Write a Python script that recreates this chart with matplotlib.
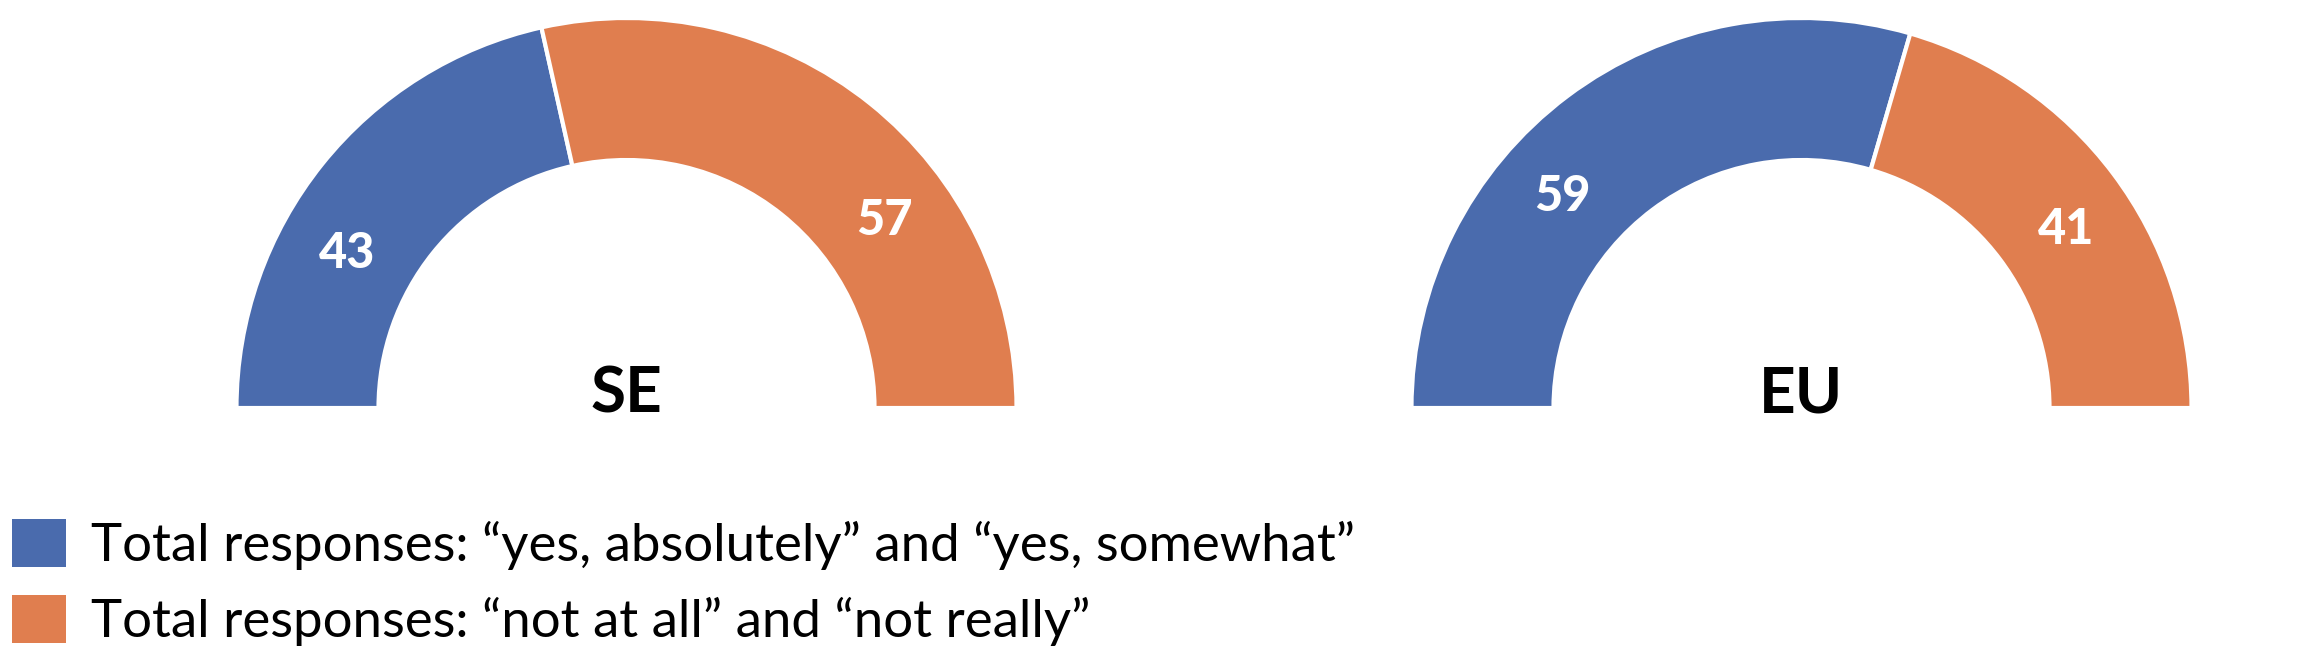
import numpy as np
import matplotlib.pyplot as plt
from matplotlib.patches import Patch

# data
regions = ["SE", "EU"]
yes_share = [43, 59]
no_share = [57, 41]
series_names = ["Total responses: \u201cyes, absolutely\u201d and \u201cyes, somewhat\u201d",
                "Total responses: \u201cnot at all\u201d and \u201cnot really\u201d"]

colors = ["#4A6BAD", "#E07E4F"]
# small angle nudges (deg) for the value labels, as placed in the original
label_nudge = [[9.8, -15.3], [11.6, -2.8]]

plt.rcParams['font.family'] = ['Lato', 'DejaVu Sans']

W, H = 2316, 672
fig = plt.figure(figsize=(W / 100, H / 100), dpi=100)

R = 390
ring = 142 / R
centers_x = [626.5, 1801.5]
center_y = 264

for i, name in enumerate(regions):
    cx = centers_x[i]
    ax = fig.add_axes([(cx - R) / W, (center_y - R) / H, 2 * R / W, 2 * R / H])
    vals = [yes_share[i], no_share[i], yes_share[i] + no_share[i]]
    wedges, _ = ax.pie(vals, startangle=180, counterclock=False, radius=1,
                       colors=colors + ["white"],
                       wedgeprops=dict(width=ring, edgecolor="white", linewidth=3))
    wedges[2].set_visible(False)
    ax.set_xlim(-1, 1)
    ax.set_ylim(-1, 1)
    ax.axis("off")

    r_lab = 1 - ring / 2
    for j, w in enumerate(wedges[:2]):
        ang = (w.theta1 + w.theta2) / 2 + label_nudge[i][j]
        ax.text(r_lab * np.cos(np.radians(ang)), r_lab * np.sin(np.radians(ang)),
                str(vals[j]), color="white", fontsize=35, fontweight="black",
                ha="center", va="center")
    ax.text(0, -0.012, name, fontsize=46, fontweight="bold", ha="center",
            va="baseline", clip_on=False)

handles = [Patch(facecolor=c) for c in colors]
fig.legend(handles, series_names, loc="upper left",
           bbox_to_anchor=(12 / W, 1 - 519 / H), frameon=False,
           fontsize=38, handlelength=1.02, handleheight=1.02,
           handletextpad=0.48, labelspacing=0.47, borderpad=0, borderaxespad=0)

fig.savefig("out.png", dpi=100)
